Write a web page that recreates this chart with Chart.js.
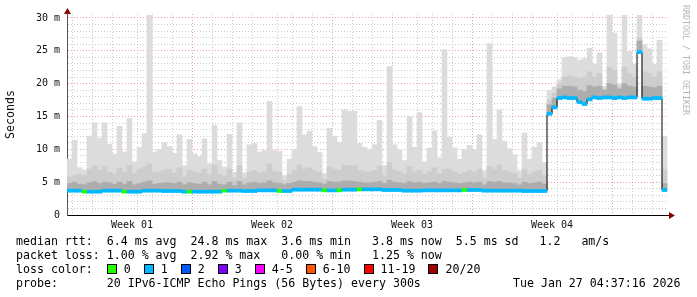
<!DOCTYPE html>
<html>
<head>
<meta charset="utf-8">
<script src="https://cdn.jsdelivr.net/npm/chart.js@4.4.1/dist/chart.umd.min.js"></script>
<style>
body { margin: 0; background: #fff; }
#wrap { position: relative; width: 697px; height: 297px; overflow: hidden; }
canvas { position: absolute; left: 0; top: 0; }
.info { position: absolute; left: 16px; font: 11.6px 'DejaVu Sans Mono', monospace; color: #000; white-space: pre; line-height: 14px; }
.sq { display: inline-block; width: 8px; height: 8px; border: 1px solid #000; vertical-align: -1px; margin-right: 7px; }
.lbl { margin-right: 13px; }
#credit { position: absolute; left: 681px; top: 5px; writing-mode: vertical-rl; font: 8.3px 'DejaVu Sans Mono', monospace; color: #b4b4b4; white-space: pre; }
</style>
</head>
<body>
<div id="wrap">
    <canvas id="smokeChart" width="697" height="297"></canvas>
    <div id="credit">RRDTOOL / TOBI OETIKER</div>
    <div class="info" style="top:234px">median rtt:  6.4 ms avg  24.8 ms max  3.6 ms min   3.8 ms now  5.5 ms sd   1.2   am/s</div>
    <div class="info" style="top:248px">packet loss: 1.00 % avg  2.92 % max   0.00 % min   1.25 % now</div>
    <div class="info" style="top:262px" id="lossRow">loss color:  </div>
    <div class="info" style="top:276px">probe:       20 IPv6-ICMP Echo Pings (56 Bytes) every 300s</div>
    <div class="info" style="top:276px;left:513px">Tue Jan 27 04:37:16 2026</div>
</div>
<script>
// time axis: days, one bucket = 6 hours
const START = -0.75;
const STEP = 0.25;
const weekPos = [2.5, 9.5, 16.5, 23.5];
const weekLabels = ['Week 01', 'Week 02', 'Week 03', 'Week 04'];

// median rtt per bucket (ms)
const median = [
    3.7, 3.7, 3.7, 3.55, 3.55, 3.55, 3.55, 3.7, 3.7, 3.7,
    3.7, 3.55, 3.55, 3.55, 3.55, 3.7, 3.7, 3.7, 3.7, 3.65,
    3.65, 3.65, 3.65, 3.55, 3.55, 3.55, 3.55, 3.55, 3.55, 3.55,
    3.55, 3.7, 3.7, 3.7, 3.7, 3.65, 3.65, 3.65, 3.75, 3.75,
    3.75, 3.75, 3.65, 3.65, 3.65, 3.85, 3.85, 3.85, 3.85, 3.85,
    3.85, 3.75, 3.75, 3.75, 3.75, 3.85, 3.85, 3.85, 3.9, 3.9,
    3.9, 3.9, 3.9, 3.8, 3.8, 3.8, 3.8, 3.7, 3.7, 3.7,
    3.7, 3.75, 3.75, 3.75, 3.75, 3.75, 3.75, 3.75, 3.75, 3.8,
    3.8, 3.8, 3.8, 3.7, 3.7, 3.7, 3.7, 3.7, 3.7, 3.7,
    3.7, 3.65, 3.65, 3.65, 3.65, 3.65, 15.4, 16.4, 17.8, 17.9,
    17.8, 17.8, 17.2, 16.9, 17.6, 17.9, 17.8, 17.9, 17.9, 17.8,
    17.9, 17.8, 17.9, 17.9, 24.8, 17.7, 17.7, 17.8, 17.8, 3.8
];

// lost pings per bucket (out of 20)
const loss = [
    1, 1, 1, 0, 1, 1, 1, 1, 1, 1,
    1, 0, 1, 1, 1, 1, 1, 1, 1, 1,
    1, 1, 1, 1, 0, 1, 1, 1, 1, 1,
    1, 0, 1, 1, 1, 1, 1, 1, 1, 1,
    1, 1, 0, 1, 1, 1, 1, 1, 1, 1,
    1, 0, 1, 1, 0, 1, 1, 1, 0, 1,
    1, 1, 1, 1, 1, 1, 1, 1, 1, 1,
    1, 1, 1, 1, 1, 1, 1, 1, 1, 0,
    1, 1, 1, 1, 1, 1, 1, 1, 1, 1,
    1, 1, 1, 1, 1, 1, 1, 1, 1, 1,
    1, 1, 1, 1, 1, 1, 1, 1, 1, 1,
    1, 1, 1, 1, 1, 1, 1, 1, 1, 1
];

// smoke: slowest ping per bucket (ms)
const smokeMax = [
    8.5, 11.4, 7.2, 6.8, 12.0, 14.0, 11.7, 14.0, 10.8, 9.3,
    13.5, 9.6, 14.7, 8.1, 10.3, 12.4, 30.4, 9.6, 10.0, 11.0,
    10.4, 9.4, 12.2, 7.5, 11.5, 9.3, 8.9, 11.6, 7.8, 13.7,
    8.3, 7.3, 12.3, 6.5, 14.0, 6.4, 10.7, 10.9, 9.6, 9.8,
    17.3, 9.8, 9.7, 5.9, 8.5, 10.0, 16.5, 12.2, 12.8, 10.4,
    9.5, 6.3, 13.2, 12.0, 11.0, 16.0, 15.8, 15.8, 10.9, 10.3,
    10.0, 10.7, 14.4, 7.5, 22.6, 10.7, 9.9, 8.3, 15.0, 10.3,
    15.6, 8.1, 10.2, 12.8, 8.7, 25.2, 11.8, 10.2, 8.5, 10.0,
    10.6, 9.9, 12.2, 6.7, 26.1, 11.5, 16.0, 11.2, 10.1, 9.2,
    6.7, 12.5, 8.5, 10.3, 11.0, 8.0, 19.0, 19.5, 20.6, 24.0,
    24.1, 24.0, 23.6, 23.8, 25.4, 23.0, 24.7, 19.6, 30.4, 27.7,
    20.0, 30.4, 24.9, 23.0, 30.4, 25.9, 25.3, 22.9, 26.6, 12.0
];

// smoke: upper quartile band
const smokeMid = [
    5.8, 6.0, 6.2, 6.0, 7.0, 7.5, 6.8, 7.4, 6.5, 6.2,
    7.2, 6.5, 7.6, 6.3, 7.0, 7.4, 7.8, 6.5, 6.6, 6.9,
    7.0, 6.4, 7.2, 5.8, 6.8, 6.5, 6.4, 7.0, 6.0, 7.6,
    6.2, 5.9, 7.0, 5.6, 7.5, 5.6, 6.6, 6.8, 6.4, 6.6,
    7.8, 6.6, 6.5, 5.2, 6.2, 6.8, 7.6, 7.0, 7.2, 6.8,
    6.5, 5.4, 7.3, 7.0, 6.8, 7.6, 7.5, 7.5, 6.8, 6.6,
    6.6, 6.8, 7.4, 6.0, 8.0, 6.8, 6.6, 6.2, 7.4, 6.6,
    6.8, 6.2, 6.6, 7.2, 6.3, 7.0, 7.0, 6.6, 6.2, 6.5,
    6.8, 6.5, 7.0, 5.6, 7.4, 7.0, 7.6, 6.8, 6.6, 6.4,
    5.6, 7.0, 6.2, 6.6, 6.8, 6.0, 17.5, 18.5, 20.0, 21.0,
    21.2, 21.0, 20.8, 21.0, 21.8, 21.0, 21.5, 19.2, 22.5, 22.0,
    19.6, 22.5, 21.5, 21.0, 27.0, 21.8, 21.5, 21.0, 21.8, 7.0
];

// smoke: dense band just above the median
const smokeLow = [
    4.8, 5.0, 4.7, 4.6, 4.9, 5.1, 4.8, 5.0, 4.9, 4.7,
    5.0, 4.7, 5.1, 4.6, 4.8, 5.0, 5.2, 4.7, 4.8, 4.9,
    4.9, 4.8, 5.0, 4.6, 4.9, 4.8, 4.7, 5.0, 4.6, 5.1,
    4.7, 4.6, 5.0, 4.5, 5.1, 4.6, 4.9, 5.0, 4.8, 4.9,
    5.2, 4.9, 4.8, 4.6, 4.8, 5.0, 5.2, 5.1, 5.1, 5.0,
    4.9, 4.7, 5.1, 5.0, 5.0, 5.2, 5.2, 5.1, 5.0, 4.9,
    4.9, 5.0, 5.1, 4.8, 5.3, 5.0, 4.9, 4.8, 5.1, 4.9,
    5.0, 4.8, 4.9, 5.0, 4.8, 5.1, 5.0, 4.9, 4.8, 4.9,
    5.0, 4.9, 5.0, 4.6, 5.1, 5.0, 5.1, 4.9, 4.9, 4.8,
    4.6, 5.0, 4.8, 4.9, 5.0, 4.7, 16.8, 17.8, 19.2, 19.6,
    19.6, 19.5, 19.0, 18.8, 19.7, 19.5, 19.6, 19.0, 20.0, 19.8,
    19.2, 20.0, 19.6, 19.5, 26.5, 19.6, 19.5, 19.4, 19.6, 4.8
];

const lossLabels = ['0', '1', '2', '3', '4-5', '6-10', '11-19', '20/20'];
const lossColors = ['#26ff00', '#00b8ff', '#0059ff', '#7e00ff', '#ff00ff', '#ff5500', '#ff0000', '#a10000'];

// loss colour legend row
const lossRow = document.getElementById('lossRow');
lossLabels.forEach((l, i) => {
    const sq = document.createElement('span');
    sq.className = 'sq';
    sq.style.background = lossColors[i];
    const t = document.createElement('span');
    t.className = 'lbl';
    t.textContent = l;
    lossRow.appendChild(sq);
    lossRow.appendChild(t);
});

const xs = median.map((_, i) => START + STEP * (i + 0.5));
const HALF = 0.23; // half thickness of the median mark

const floatBars = (lo, hi, color, order) => ({
    type: 'bar',
    data: xs.map((x, i) => ({ x, y: [lo[i], hi[i]] })),
    backgroundColor: color,
    order,
    grouped: false,
    barPercentage: 1,
    categoryPercentage: 1
});

const smokeBase = median.map(m => m + HALF);
const medLo = median.map(m => m - HALF);
const medHi = median.map(m => m + HALF);

const arrows = {
    id: 'arrows',
    afterDraw(chart) {
        const { ctx, chartArea: a } = chart;
        ctx.save();
        ctx.fillStyle = '#8b0000';
        ctx.beginPath();
        ctx.moveTo(a.left - 3, 14);
        ctx.lineTo(a.left + 4, 14);
        ctx.lineTo(a.left + 0.5, 8);
        ctx.fill();
        ctx.beginPath();
        ctx.moveTo(a.right + 1, a.bottom - 3);
        ctx.lineTo(a.right + 1, a.bottom + 4);
        ctx.lineTo(a.right + 7, a.bottom + 0.5);
        ctx.fill();
        ctx.strokeStyle = '#555';
        ctx.beginPath();
        ctx.moveTo(a.left + 0.5, 13);
        ctx.lineTo(a.left + 0.5, a.top);
        ctx.stroke();
        ctx.restore();
    }
};

const FONT = "'DejaVu Sans Mono', monospace";

new Chart(document.getElementById('smokeChart').getContext('2d'), {
    type: 'bar',
    data: {
        datasets: [
            floatBars(smokeBase, smokeMax, '#dcdcdc', 5),
            floatBars(smokeBase, smokeMid, '#cdcdcd', 4),
            floatBars(smokeBase, smokeLow, '#adadad', 3),
            {
                type: 'line',
                data: xs.map((x, i) => ({ x, y: median[i] })),
                borderColor: '#000',
                borderWidth: 1,
                pointRadius: 0,
                stepped: 'middle',
                order: 2
            },
            floatBars(medLo, medHi, loss.map(l => lossColors[l]), 1)
        ]
    },
    options: {
        responsive: false,
        animation: false,
        layout: { padding: { top: 14, right: 29, left: 0, bottom: 0 } },
        plugins: { legend: { display: false }, tooltip: { enabled: false } },
        scales: {
            x: {
                type: 'linear',
                min: START,
                max: 29.3,
                offset: false,
                z: 1,
                afterBuildTicks: scale => {
                    const vals = [];
                    for (let d = 0; d <= 29; d++) vals.push(d);
                    scale.ticks = vals.concat(weekPos).sort((a, b) => a - b).map(v => ({ value: v }));
                },
                afterFit: scale => { scale.height = 82; },
                ticks: {
                    autoSkip: false,
                    maxRotation: 0,
                    padding: 4,
                    color: '#111',
                    font: { family: FONT, size: 10 },
                    callback: v => {
                        const k = weekPos.indexOf(v);
                        return k >= 0 ? weekLabels[k] : '';
                    }
                },
                grid: {
                    drawTicks: false,
                    lineWidth: 1,
                    color: ctx => {
                        const v = ctx.tick && ctx.tick.value;
                        if (!Number.isInteger(v)) return 'rgba(0,0,0,0)';
                        return (v + 1) % 7 === 0 ? 'rgba(225,95,95,0.6)' : 'rgba(150,150,150,0.5)';
                    }
                },
                border: { display: true, color: '#000', width: 1, dash: [1, 2] }
            },
            y: {
                min: 0,
                max: 30.6,
                z: 1,
                afterBuildTicks: scale => {
                    const vals = [];
                    for (let v = 0; v <= 30; v++) vals.push({ value: v });
                    scale.ticks = vals;
                },
                afterFit: scale => { scale.width = 67; },
                title: {
                    display: true,
                    text: 'Seconds',
                    color: '#111',
                    font: { family: FONT, size: 11.6 },
                    padding: { top: 4, bottom: 0 }
                },
                ticks: {
                    autoSkip: false,
                    padding: 7,
                    color: '#111',
                    font: { family: FONT, size: 10 },
                    callback: v => v === 0 ? '0' : (v % 5 === 0 ? v + ' m' : '')
                },
                grid: {
                    drawTicks: false,
                    lineWidth: 1,
                    color: ctx => {
                        const v = ctx.tick && ctx.tick.value;
                        if (v === 0) return 'rgba(0,0,0,0)';
                        return v % 5 === 0 ? 'rgba(225,95,95,0.6)' : 'rgba(150,150,150,0.5)';
                    }
                },
                border: { display: true, color: '#555', width: 1, dash: [1, 2] }
            }
        }
    },
    plugins: [arrows]
});
</script>
</body>
</html>
